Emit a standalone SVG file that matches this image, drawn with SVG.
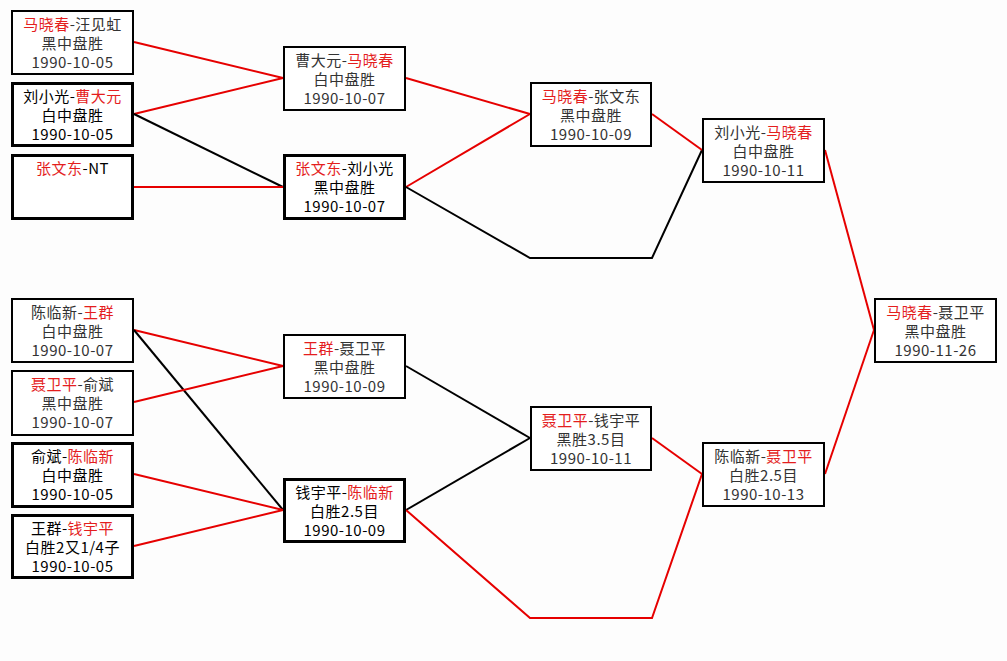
<svg xmlns="http://www.w3.org/2000/svg" width="1007" height="661" viewBox="0 0 1007 661">
<style>
.box{fill:#ffffff;stroke:#000}
.thin{stroke-width:2}
.thick{stroke-width:3}
.t{font-family:"Noto Sans CJK SC","Noto Sans",sans-serif;font-size:15px;letter-spacing:0.5px;text-anchor:middle;fill:#333}
.k .t{fill:#000}
.r{fill:#e41e1e}
.cr{fill:none;stroke:#e60000;stroke-width:2}
.cb{fill:none;stroke:#000;stroke-width:2}
</style>
<rect x="0" y="0" width="1007" height="661" fill="#fdfdfd"/>
<g id="connectors">
<polyline class="cr" points="134,42 283,78"/>
<polyline class="cr" points="134,114 283,78"/>
<polyline class="cb" points="134,114 283,187"/>
<polyline class="cr" points="134,187 283,187"/>
<polyline class="cr" points="406,78 530,114"/>
<polyline class="cr" points="406,187 530,114"/>
<polyline class="cb" points="406,187 530,258 652,258 702,150"/>
<polyline class="cr" points="652,114 702,150"/>
<polyline class="cr" points="825,150 874,330"/>
<polyline class="cr" points="134,330 283,366"/>
<polyline class="cb" points="134,330 283,510"/>
<polyline class="cr" points="134,402 283,366"/>
<polyline class="cr" points="134,474 283,510"/>
<polyline class="cr" points="134,546 283,510"/>
<polyline class="cb" points="406,366 530,438"/>
<polyline class="cb" points="406,510 530,438"/>
<polyline class="cr" points="406,510 530,618 652,618 702,474"/>
<polyline class="cr" points="652,438 702,474"/>
<polyline class="cr" points="825,474 874,330"/>
</g>
<g id="nA">
<rect class="box thin" x="12" y="11" width="121" height="63"/>
<text class="t" x="72.5" y="30"><tspan class="r">马晓春</tspan>-汪见虹</text>
<text class="t" x="72.5" y="49">黑中盘胜</text>
<text class="t" x="72.5" y="68">1990-10-05</text>
</g>
<g id="nB" class="k">
<rect class="box thick" x="12.5" y="83.5" width="120" height="62"/>
<text class="t" x="72.5" y="102">刘小光-<tspan class="r">曹大元</tspan></text>
<text class="t" x="72.5" y="121">白中盘胜</text>
<text class="t" x="72.5" y="140">1990-10-05</text>
</g>
<g id="nC" class="k">
<rect class="box thick" x="12.5" y="155.5" width="120" height="63"/>
<text class="t" x="72.5" y="174"><tspan class="r">张文东</tspan>-NT</text>
</g>
<g id="nD">
<rect class="box thin" x="284" y="47" width="121" height="63"/>
<text class="t" x="344.5" y="66">曹大元-<tspan class="r">马晓春</tspan></text>
<text class="t" x="344.5" y="85">白中盘胜</text>
<text class="t" x="344.5" y="104">1990-10-07</text>
</g>
<g id="nE" class="k">
<rect class="box thick" x="284.5" y="155.5" width="120" height="63"/>
<text class="t" x="344.5" y="174"><tspan class="r">张文东</tspan>-刘小光</text>
<text class="t" x="344.5" y="193">黑中盘胜</text>
<text class="t" x="344.5" y="212">1990-10-07</text>
</g>
<g id="nF">
<rect class="box thin" x="531" y="83" width="120" height="63"/>
<text class="t" x="591" y="102"><tspan class="r">马晓春</tspan>-张文东</text>
<text class="t" x="591" y="121">黑中盘胜</text>
<text class="t" x="591" y="140">1990-10-09</text>
</g>
<g id="nG">
<rect class="box thin" x="703" y="119" width="121" height="63"/>
<text class="t" x="763.5" y="138">刘小光-<tspan class="r">马晓春</tspan></text>
<text class="t" x="763.5" y="157">白中盘胜</text>
<text class="t" x="763.5" y="176">1990-10-11</text>
</g>
<g id="nH">
<rect class="box thin" x="875" y="299" width="121" height="63"/>
<text class="t" x="935.5" y="318"><tspan class="r">马晓春</tspan>-聂卫平</text>
<text class="t" x="935.5" y="337">黑中盘胜</text>
<text class="t" x="935.5" y="356">1990-11-26</text>
</g>
<g id="nI">
<rect class="box thin" x="12" y="299" width="121" height="63"/>
<text class="t" x="72.5" y="318">陈临新-<tspan class="r">王群</tspan></text>
<text class="t" x="72.5" y="337">白中盘胜</text>
<text class="t" x="72.5" y="356">1990-10-07</text>
</g>
<g id="nJ">
<rect class="box thin" x="12" y="371" width="121" height="64"/>
<text class="t" x="72.5" y="390"><tspan class="r">聂卫平</tspan>-俞斌</text>
<text class="t" x="72.5" y="409">黑中盘胜</text>
<text class="t" x="72.5" y="428">1990-10-07</text>
</g>
<g id="nK" class="k">
<rect class="box thick" x="12.5" y="443.5" width="120" height="63"/>
<text class="t" x="72.5" y="462">俞斌-<tspan class="r">陈临新</tspan></text>
<text class="t" x="72.5" y="481">白中盘胜</text>
<text class="t" x="72.5" y="500">1990-10-05</text>
</g>
<g id="nL" class="k">
<rect class="box thick" x="12.5" y="515.5" width="120" height="62"/>
<text class="t" x="72.5" y="534">王群-<tspan class="r">钱宇平</tspan></text>
<text class="t" x="72.5" y="553">白胜2又1/4子</text>
<text class="t" x="72.5" y="572">1990-10-05</text>
</g>
<g id="nM">
<rect class="box thin" x="284" y="335" width="121" height="63"/>
<text class="t" x="344.5" y="354"><tspan class="r">王群</tspan>-聂卫平</text>
<text class="t" x="344.5" y="373">黑中盘胜</text>
<text class="t" x="344.5" y="392">1990-10-09</text>
</g>
<g id="nN" class="k">
<rect class="box thick" x="284.5" y="479.5" width="120" height="62"/>
<text class="t" x="344.5" y="498">钱宇平-<tspan class="r">陈临新</tspan></text>
<text class="t" x="344.5" y="517">白胜2.5目</text>
<text class="t" x="344.5" y="536">1990-10-09</text>
</g>
<g id="nO">
<rect class="box thin" x="531" y="407" width="120" height="63"/>
<text class="t" x="591" y="426"><tspan class="r">聂卫平</tspan>-钱宇平</text>
<text class="t" x="591" y="445">黑胜3.5目</text>
<text class="t" x="591" y="464">1990-10-11</text>
</g>
<g id="nP">
<rect class="box thin" x="703" y="443" width="121" height="63"/>
<text class="t" x="763.5" y="462">陈临新-<tspan class="r">聂卫平</tspan></text>
<text class="t" x="763.5" y="481">白胜2.5目</text>
<text class="t" x="763.5" y="500">1990-10-13</text>
</g>
</svg>
